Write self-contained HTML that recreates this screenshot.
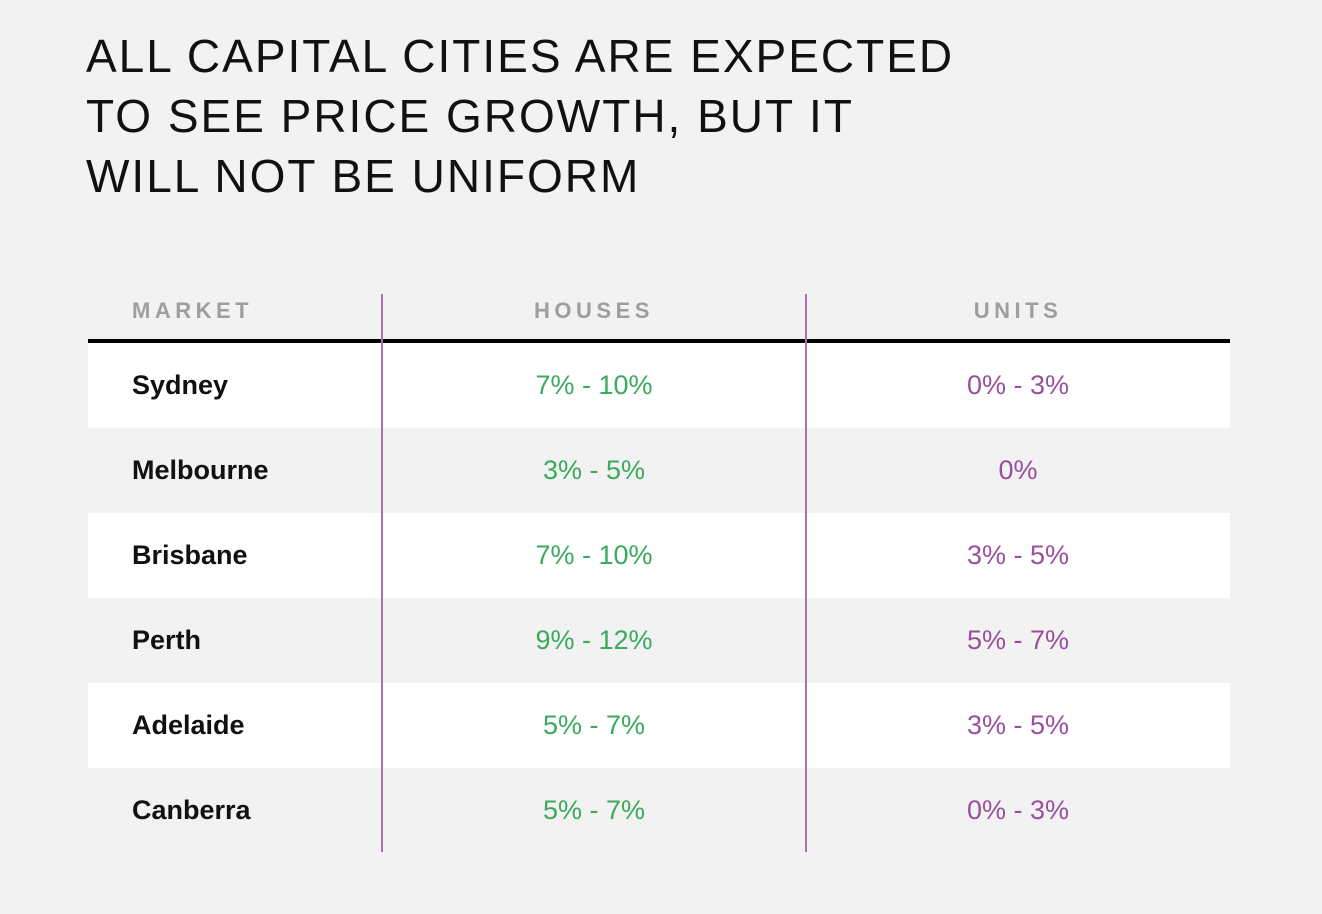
<!DOCTYPE html>
<html><head><meta charset="utf-8">
<style>
html,body{margin:0;padding:0;}
body{width:1322px;height:914px;background:#f2f2f2;position:relative;overflow:hidden;font-family:"Liberation Sans",sans-serif;}
.title{position:absolute;left:86px;top:26px;font-size:46px;line-height:60px;letter-spacing:2px;color:#111;font-weight:normal;margin:0;}
.hdr{position:absolute;top:298px;font-size:22px;font-weight:bold;letter-spacing:4.5px;color:#9e9e9e;}
.rule{position:absolute;left:88px;width:1142px;top:339px;height:4px;background:#000;}
.row{position:absolute;left:88px;width:1142px;height:85px;}
.cell{position:absolute;top:0;height:85px;line-height:85px;font-size:27px;}
.mk{left:44px;font-weight:bold;color:#111;}
.hs{left:294px;width:424px;text-align:center;color:#3aaa5e;}
.un{left:718px;width:424px;text-align:center;color:#9a4f9e;}
.vl{position:absolute;top:294px;height:558px;width:2px;background:#a673ad;}
</style></head><body>
<h1 class="title">ALL CAPITAL CITIES ARE EXPECTED<br>TO SEE PRICE GROWTH, BUT IT<br>WILL NOT BE UNIFORM</h1>
<div class="hdr" style="left:132px">MARKET</div>
<div class="hdr" style="left:382px;width:424px;text-align:center">HOUSES</div>
<div class="hdr" style="left:806px;width:424px;text-align:center">UNITS</div>
<div id="rows"></div>
<div class="rule"></div>
<div class="vl" style="left:381px"></div>
<div class="vl" style="left:805px"></div>
<script>
const markets=["Sydney","Melbourne","Brisbane","Perth","Adelaide","Canberra"];
const houses=["7% - 10%","3% - 5%","7% - 10%","9% - 12%","5% - 7%","5% - 7%"];
const units=["0% - 3%","0%","3% - 5%","5% - 7%","3% - 5%","0% - 3%"];
const wrap=document.getElementById('rows');
markets.forEach((m,i)=>{
  const r=document.createElement('div');
  r.className='row';
  r.style.top=(343+i*85)+'px';
  r.style.background=i%2===0?'#ffffff':'#f2f2f2';
  
  
  const a=document.createElement('div');a.className='cell mk';a.textContent=m;
  
  
  const b=document.createElement('div');b.className='cell hs';b.textContent=houses[i];
  
  
  const c=document.createElement('div');c.className='cell un';c.textContent=units[i];
  
  
  r.appendChild(a);r.appendChild(b);r.appendChild(c);
  wrap.appendChild(r);
});
</script>
</body></html>
